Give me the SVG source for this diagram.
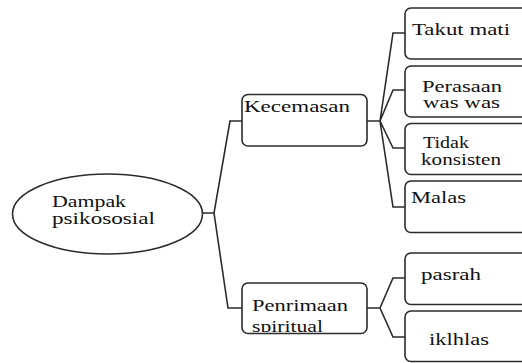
<svg xmlns="http://www.w3.org/2000/svg" width="522" height="363" viewBox="0 0 522 363">
<style>
.n{fill:#fff;stroke:#2b2b2b;stroke-width:1.6}
.c{fill:none;stroke:#2b2b2b;stroke-width:1.6;stroke-linejoin:miter}
text{font-family:'Liberation Serif','Times New Roman',serif;font-size:16px;fill:#111}
</style>
<defs>
<clipPath id="clipPen"><rect x="243" y="284" width="123" height="48"/></clipPath>
</defs>
<rect width="522" height="363" fill="#fff"/>
<g id="connectors">
<path class="c" d="M202,213 H214 M242,121 H230 L214,213 L228,308 H242"/>
<path class="c" d="M367,121 H380 M405,33 H393 L380,121 L393,90 H405 M380,121 L393,148 H405 M380,121 L393,207 H405"/>
<path class="c" d="M367,308 H380 M405,278 H393 L380,308 L393,337 H405"/>
</g>
<g id="dampak">
<ellipse class="n" cx="107.5" cy="214" rx="95" ry="40"/>
<text x="52" y="207" textLength="74" lengthAdjust="spacingAndGlyphs">Dampak</text>
<text x="52" y="224" textLength="103" lengthAdjust="spacingAndGlyphs">psikososial</text>
</g>
<g id="kecemasan">
<rect class="n" x="242" y="94.5" width="125" height="51.5" rx="6"/>
<text x="244" y="112" textLength="106" lengthAdjust="spacingAndGlyphs">Kecemasan</text>
</g>
<g id="penrimaan">
<rect class="n" x="242" y="283" width="125" height="50.5" rx="6"/>
<text x="252" y="311" textLength="96" lengthAdjust="spacingAndGlyphs">Penrimaan</text>
<text x="252" y="332" textLength="71" lengthAdjust="spacingAndGlyphs" clip-path="url(#clipPen)">spiritual</text>
</g>
<g id="takut">
<rect class="n" x="405" y="8" width="130" height="51" rx="6"/>
<text x="412" y="35" textLength="98" lengthAdjust="spacingAndGlyphs">Takut mati</text>
</g>
<g id="perasaan">
<rect class="n" x="405" y="66" width="130" height="51" rx="6"/>
<text x="422" y="92" textLength="80" lengthAdjust="spacingAndGlyphs">Perasaan</text>
<text x="423" y="108" textLength="77" lengthAdjust="spacingAndGlyphs">was was</text>
</g>
<g id="tidak">
<rect class="n" x="405" y="123.5" width="130" height="51" rx="6"/>
<text x="423" y="148" textLength="46" lengthAdjust="spacingAndGlyphs">Tidak</text>
<text x="421" y="165" textLength="80" lengthAdjust="spacingAndGlyphs">konsisten</text>
</g>
<g id="malas">
<rect class="n" x="405" y="181" width="130" height="51.5" rx="6"/>
<text x="411" y="203" textLength="55" lengthAdjust="spacingAndGlyphs">Malas</text>
</g>
<g id="pasrah">
<rect class="n" x="405" y="253" width="130" height="51.5" rx="6"/>
<text x="421" y="280" textLength="60" lengthAdjust="spacingAndGlyphs">pasrah</text>
</g>
<g id="iklhlas">
<rect class="n" x="405" y="311" width="130" height="50.5" rx="6"/>
<text x="429" y="345" textLength="60" lengthAdjust="spacingAndGlyphs">iklhlas</text>
</g>
</svg>
